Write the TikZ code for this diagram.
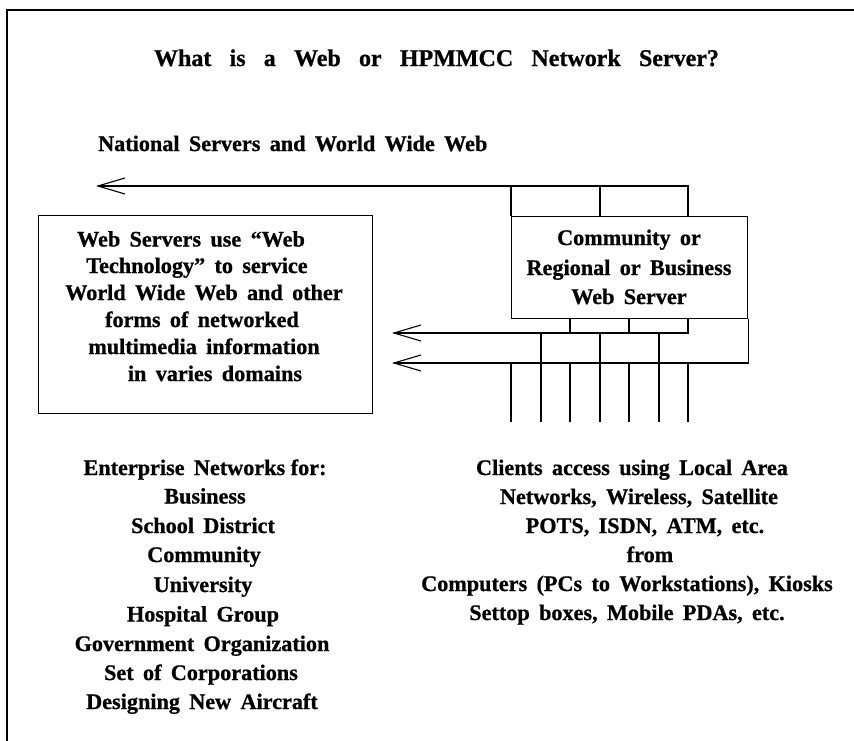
\documentclass[tikz,border=0pt]{standalone}
\usepackage{fontspec}
\setmainfont[BoldFeatures={FakeBold=0.8}]{Liberation Serif}
\usetikzlibrary{arrows.meta}
\newcommand\nsp{\hspace{0.25em}}
\newcommand\txtfont{\fontsize{22.2}{29}\selectfont\bfseries\spaceskip=0.42em\relax}
\newcommand\ttlfont{\fontsize{24}{29}\selectfont\bfseries\spaceskip=0.76em\relax}
\tikzset{
  txt/.style={inner sep=0pt, anchor=base, font=\txtfont},
  ttl/.style={inner sep=0pt, anchor=base, font=\ttlfont},
  boxx/.style={draw, line width=1.1pt, inner sep=0pt, anchor=north west},
  ln/.style={line width=1.1pt},
  barb/.style={line width=1.1pt, -{Straight Barb[length=27pt,width=16pt,line width=1.1pt]}},
}
\begin{document}
\begin{tikzpicture}[x=1pt,y=-1pt]
\useasboundingbox (0,0) rectangle (854,740);
% frame
\draw[line width=2pt] (7,741) -- (7,10) -- (855,10);
% title
\node[ttl] (title) at (436.5,66) {What is a Web or HPMMCC Network Server?};
\node[txt, anchor=base west] (nat) at (98,151) {National Servers and World Wide Web};
% boxes
\node[boxx, minimum width=334pt, minimum height=198pt] (L) at (38,215) {};
\node[boxx, minimum width=236pt, minimum height=102pt] (R) at (511,216) {};
% left box text
\node[txt] (l1) at (191,246.5) {Web Servers use ``Web};
\node[txt] (l2) at (197,273) {Technology'' to service};
\node[txt] (l3) at (204,300) {World Wide Web and other};
\node[txt] (l4) at (202,327) {forms of networked};
\node[txt] (l5) at (204,354) {multimedia information};
\node[txt] (l6) at (215,381) {in varies domains};
% right box text
\node[txt] (r1) at (629,245) {Community or};
\node[txt] (r2) at (629,275) {Regional or Business};
\node[txt] (r3) at (629,304) {Web Server};
% coordinates
\coordinate (x511) at (511,0);
\coordinate (x541) at (541,0);
\coordinate (x570) at (570,0);
\coordinate (x600) at (600,0);
\coordinate (x629) at (629,0);
\coordinate (x659) at (659,0);
\coordinate (x688) at (688,0);
\coordinate (tipA) at (96,186);
\coordinate (tipB) at (392,333);
\coordinate (tipC) at (392,363);
\coordinate (bot) at (0,422);
% top bus
\draw[barb] (R.north -| x688) |- (tipA);
\draw[ln] (R.north west) -- (R.north west |- tipA);
\draw[ln] (R.north -| x600) -- (x600 |- tipA);
% lower buses
\draw[barb] (R.south -| x688) |- (tipB);
\draw[ln] (R.south -| x570) -- (x570 |- tipB);
\draw[ln] (R.south -| x629) -- (x629 |- tipB);
\draw[barb] (R.south east) |- (tipC);
% client drops
\draw[ln] (x541 |- tipB) -- (x541 |- bot);
\draw[ln] (x600 |- tipB) -- (x600 |- bot);
\draw[ln] (x659 |- tipB) -- (x659 |- bot);
\draw[ln] (x511 |- tipC) -- (x511 |- bot);
\draw[ln] (x570 |- tipC) -- (x570 |- bot);
\draw[ln] (x629 |- tipC) -- (x629 |- bot);
\draw[ln] (x688 |- tipC) -- (x688 |- bot);
% bottom left list
\node[txt] (e1) at (205,475) {Enterprise Networks\nsp for:};
\node[txt] (e2) at (205,503.5) {Business};
\node[txt] (e3) at (203,533) {School District};
\node[txt] (e4) at (204,562) {Community};
\node[txt] (e5) at (203,592) {University};
\node[txt] (e6) at (203,621.5) {Hospital Group};
\node[txt] (e7) at (202,651) {Government Organization};
\node[txt] (e8) at (201,680) {Set of Corporations};
\node[txt] (e9) at (202,709) {Designing New Aircraft};
% bottom right text
\node[txt] (c1) at (632,475) {Clients access using Local Area};
\node[txt] (c2) at (639,504) {Networks, Wireless, Satellite};
\node[txt] (c3) at (645,533) {POTS, ISDN, ATM, etc.};
\node[txt] (c4) at (650,562) {from};
\node[txt] (c5) at (627,591) {Computers (PCs to Workstations), Kiosks};
\node[txt] (c6) at (627,620) {Settop boxes, Mobile PDAs, etc.};
\end{tikzpicture}
\end{document}
